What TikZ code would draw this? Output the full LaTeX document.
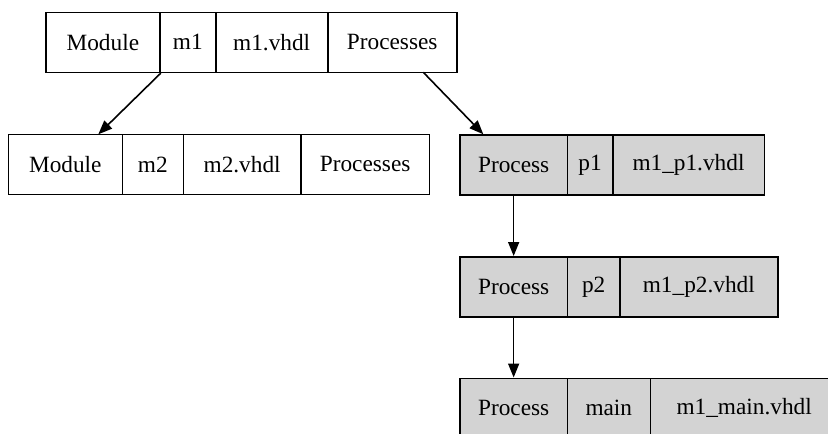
\documentclass[tikz,border=0pt]{standalone}
\usepackage{fontspec}
\setmainfont{Liberation Serif}
\usetikzlibrary{arrows.meta}
\definecolor{procgray}{HTML}{D3D3D3}
\tikzset{
  field/.style={draw, line width=1.6pt, inner sep=0pt, minimum height=60pt,
    font=\fontsize{23.3}{28}\selectfont},
  procfield/.style={field, fill=procgray},
  link/.style={line width=1.6pt, -{Triangle[length=14pt,width=11pt]}}
}
\begin{document}
\begin{tikzpicture}[x=1pt,y=-1pt]
\clip (0,0) rectangle (828,434);
\useasboundingbox (0,0) rectangle (828,434);

% module m1
\node[field, minimum width=114.3pt] (m1-kind) at (102.85,42.3) {Module};
\node[field, minimum width=55.7pt]  (m1-name) at (187.85,42.3) {m1};
\node[field, minimum width=112pt]   (m1-file) at (271.7,42.3) {m1.vhdl};
\node[field, minimum width=129pt]   (m1-proc) at (392.2,42.3) {Processes};

% module m2
\node[field, minimum width=114pt]   (m2-kind) at (65.3,164.3) {Module};
\node[field, minimum width=61pt]    (m2-name) at (152.8,164.3) {m2};
\node[field, minimum width=117.7pt] (m2-file) at (242.15,164.3) {m2.vhdl};
\node[field, minimum width=128.3pt] (m2-proc) at (365.15,164.3) {Processes};

% process p1
\node[procfield, minimum width=107.3pt] (p1-kind) at (513.65,164.8) {Process};
\node[procfield, minimum width=45.4pt]  (p1-name) at (590,164.8) {p1};
\node[procfield, minimum width=151.6pt] (p1-file) at (688.5,164.8) {m1\_p1.vhdl};

% process p2
\node[procfield, minimum width=107.3pt] (p2-kind) at (513.65,286.8) {Process};
\node[procfield, minimum width=52.7pt]  (p2-name) at (593.65,286.8) {p2};
\node[procfield, minimum width=157.7pt] (p2-file) at (698.85,286.8) {m1\_p2.vhdl};

% process main
\node[procfield, minimum width=107.3pt] (pm-kind) at (513.65,408.3) {Process};
\node[procfield, minimum width=83pt]    (pm-name) at (608.8,408.3) {main};
\node[procfield, minimum width=187.7pt] (pm-file) at (744.15,408.3) {m1\_main.vhdl};

% edge end points on the record borders
\coordinate (m2-in)  at (98.3,134.3);
\coordinate (m1-out) at (423.3,72.3);
\coordinate (p1-in)  at (483.3,134.3);

\draw[link] (m1-kind.south east) -- (m2-in);
\draw[link] (m1-out) -- (p1-in);
\draw[link] (p1-kind.south) -- (p2-kind.north);
\draw[link] (p2-kind.south) -- (pm-kind.north);
\end{tikzpicture}
\end{document}
